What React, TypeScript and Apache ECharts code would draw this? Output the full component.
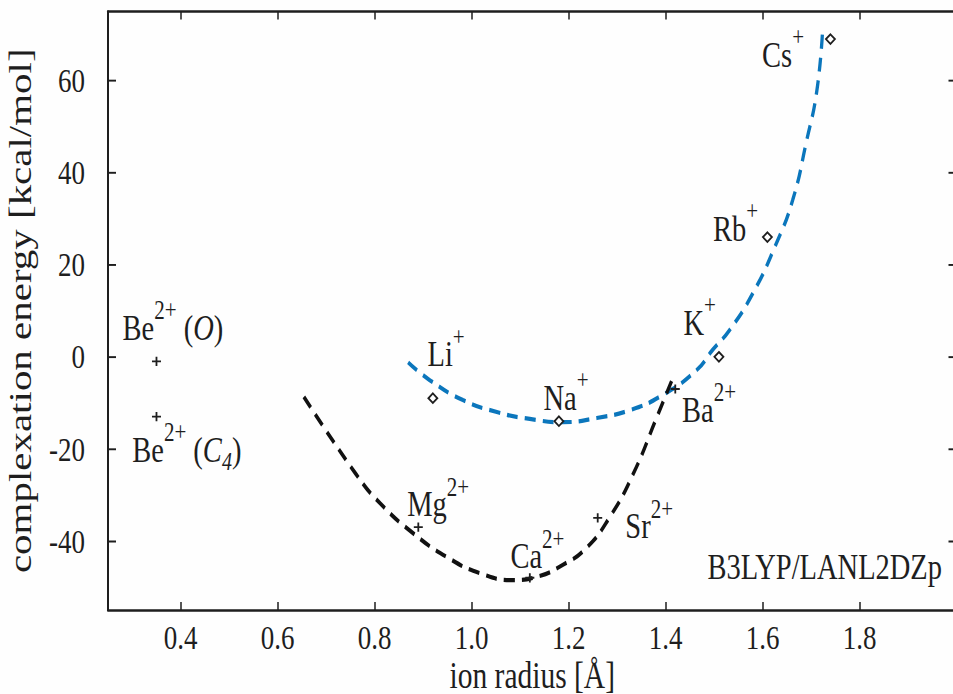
import React, { useEffect, useRef } from 'react';
import * as echarts from 'echarts';

// ---- axis ticks ----
const xTicks = [0.4, 0.6, 0.8, 1.0, 1.2, 1.4, 1.6, 1.8];
const yTicks = [-40, -20, 0, 20, 40, 60];

// ---- alkali metal ions (diamonds) ----
const alkaliX = [0.92, 1.18, 1.51, 1.61, 1.74];
const alkaliY = [-9, -14, 0, 26, 69];

// ---- alkaline earth ions (plus markers) ----
const earthX = [0.35, 0.35, 0.89, 1.12, 1.26, 1.42];
const earthY = [-1, -13, -37, -48, -35, -7];

// ---- fitted curves ----
const alkaliFitX = [0.869, 0.914, 0.982, 1.052, 1.12, 1.188, 1.258, 1.326, 1.394, 1.464, 1.497, 1.532, 1.58, 1.625, 1.662, 1.691, 1.712, 1.724];
const alkaliFitY = [-1.2, -5.1, -9.4, -12.0, -13.5, -14.2, -13.3, -11.6, -8.3, -2.9, 1.5, 5.8, 13.8, 23.8, 34, 47, 57.8, 71.2];
const earthFitX = [0.654, 0.763, 0.811, 0.879, 0.949, 1.017, 1.085, 1.134, 1.188, 1.237, 1.285, 1.333, 1.382, 1.415];
const earthFitY = [-8.7, -25.7, -31.8, -38.3, -43.5, -47, -48.5, -47.8, -45.2, -41.5, -34.8, -25.5, -13.1, -4.6];

// ---- ion labels ----
const labelNames = ['Cs', 'Rb', 'K', 'Li', 'Na', 'Ba', 'Mg', 'Ca', 'Sr', 'Be', 'Be'];
const labelCharges = ['+', '+', '+', '+', '+', '2+', '2+', '2+', '2+', '2+', '2+'];
const labelSites = ['', '', '', '', '', '', '', '', '', 'O', 'C4'];
const labelX = [1.598, 1.497, 1.436, 0.908, 1.147, 1.433, 0.866, 1.079, 1.316, 0.279, 0.299];
const labelY = [65.6, 27.9, 7.5, 0.6, -8.8, -11.4, -32, -43.3, -36.8, 6.4, -20.1];

const methodLabel = 'B3LYP/LANL2DZp';
const xName = 'ion radius [Å]';
const yName = 'complexation energy [kcal/mol]';

const SERIF = '"Liberation Serif", "Times New Roman", serif';
const INK = '#1e1e1e';
const BLUE = '#0b76bc';

// the reference figure is stretched vertically
const W = 953;
const H_OUT = 694;
const SY = 1.28;
const H = H_OUT / SY;

function richLabel(i: number): string {
  let s = `{b|${labelNames[i]}}{s|${labelCharges[i]}}`;
  const site = labelSites[i];
  if (site === 'O') s += `{b| (}{i|O}{b|)}`;
  else if (site === 'C4') s += `{b| (}{i|C}{sub|4}{b|)}`;
  return s;
}

export default function App() {
  const ref = useRef<HTMLDivElement>(null);
  useEffect(() => {
    if (!ref.current) return;
    const chart = echarts.init(ref.current, undefined, { renderer: 'svg', width: W, height: H });
    const axisLine = { show: true, onZero: false, lineStyle: { color: INK, width: 2 } };
    const tickStyle = { lineStyle: { color: INK, width: 1.5 } };
    const option: any = {
      animation: false,
      backgroundColor: '#fefefe',
      grid: { left: 108, top: 11.5 / SY, right: -3.5, bottom: 84 / SY, containLabel: false, outerBoundsMode: 'none' },
      xAxis: [
        {
          type: 'value', min: 0.25, max: 2.0, position: 'bottom',
          axisLine,
          axisTick: { show: true, inside: true, length: 8 / SY, customValues: xTicks, ...tickStyle },
          axisLabel: {
            show: true, customValues: xTicks, margin: 8,
            formatter: (v: number) => v.toFixed(1),
            fontFamily: SERIF, fontSize: 27, color: INK,
          },
          splitLine: { show: false },
          name: xName, nameLocation: 'middle', nameGap: 36, nameMoveOverlap: false,
          nameTextStyle: { fontFamily: SERIF, fontSize: 29.5, color: INK },
        },
        {
          type: 'value', min: 0.25, max: 2.0, position: 'top',
          axisLine,
          axisTick: { show: true, inside: true, length: 8 / SY, customValues: xTicks, ...tickStyle },
          axisLabel: { show: false },
          splitLine: { show: false },
        },
      ],
      yAxis: [
        {
          type: 'value', min: -55, max: 75, position: 'left',
          axisLine,
          axisTick: { show: true, inside: true, length: 8, customValues: yTicks, ...tickStyle },
          axisLabel: {
            show: true, customValues: yTicks, margin: 23,
            formatter: (v: number) => String(v),
            fontFamily: SERIF, fontSize: 27, color: INK,
          },
          splitLine: { show: false },
          name: yName, nameLocation: 'middle', nameGap: 72, nameRotate: 90, nameMoveOverlap: false,
          nameTextStyle: { fontFamily: SERIF, fontSize: 32, color: INK },
        },
        {
          type: 'value', min: -55, max: 75, position: 'right',
          axisLine,
          axisTick: { show: true, inside: true, length: 8, customValues: yTicks, ...tickStyle },
          axisLabel: { show: false },
          splitLine: { show: false },
        },
      ],
      graphic: [
        {
          type: 'text', x: 942, y: 567 / SY,
          style: { text: methodLabel, fontFamily: SERIF, fontSize: 28.5, fill: INK, align: 'right', verticalAlign: 'middle' },
        },
      ],
      series: [
        {
          type: 'line', name: 'alkali fit', smooth: true, symbol: 'none', z: 2,
          data: alkaliFitX.map((x, i) => [x, alkaliFitY[i]]),
          lineStyle: { color: BLUE, width: 3.3, type: [11, 7] },
        },
        {
          type: 'line', name: 'earth fit', smooth: true, symbol: 'none', z: 2,
          data: earthFitX.map((x, i) => [x, earthFitY[i]]),
          lineStyle: { color: '#111', width: 3.3, type: [11, 7] },
        },
        {
          type: 'scatter', name: 'alkali', symbol: 'diamond', symbolSize: [9, 7.5], z: 3,
          data: alkaliX.map((x, i) => [x, alkaliY[i]]),
          itemStyle: { color: '#ffffff', borderColor: INK, borderWidth: 1.6, opacity: 1 },
        },
        {
          type: 'scatter', name: 'earth', z: 3,
          symbol: 'path://M4,0H6V4H10V6H6V10H4V6H0V4H4Z', symbolSize: [9, 7.2], symbolKeepAspect: false,
          data: earthX.map((x, i) => [x, earthY[i]]),
          itemStyle: { color: INK, opacity: 1 },
        },
        {
          type: 'scatter', name: 'labels', symbolSize: 1, z: 4, silent: true,
          itemStyle: { color: 'rgba(0,0,0,0)', opacity: 1 },
          data: labelX.map((x, i) => [x, labelY[i]]),
          label: {
            show: true, position: 'right', distance: 0, offset: [0, 0], color: INK, opacity: 1,
            formatter: (p: any) => richLabel(p.dataIndex),
            rich: {
              b: { fontFamily: SERIF, fontSize: 28.5, lineHeight: 29, color: INK },
              i: { fontFamily: SERIF, fontSize: 28.5, lineHeight: 29, fontStyle: 'italic', color: INK },
              s: { fontFamily: SERIF, fontSize: 21, lineHeight: 21, padding: [0, 0, 27, 0], color: INK },
              sub: { fontFamily: SERIF, fontSize: 20, lineHeight: 20, padding: [19, 0, 0, 0], fontStyle: 'italic', color: INK },
            },
          },
        },
      ],
    };
    chart.setOption(option);
    return () => chart.dispose();
  }, []);
  return (
    <div style={{ position: 'fixed', left: 0, top: 0, width: W, height: H_OUT, overflow: 'hidden', background: '#fefefe' }}>
      <div
        ref={ref}
        style={{ width: W, height: H, transform: `scaleY(${SY})`, transformOrigin: '0 0' }}
      />
    </div>
  );
}
